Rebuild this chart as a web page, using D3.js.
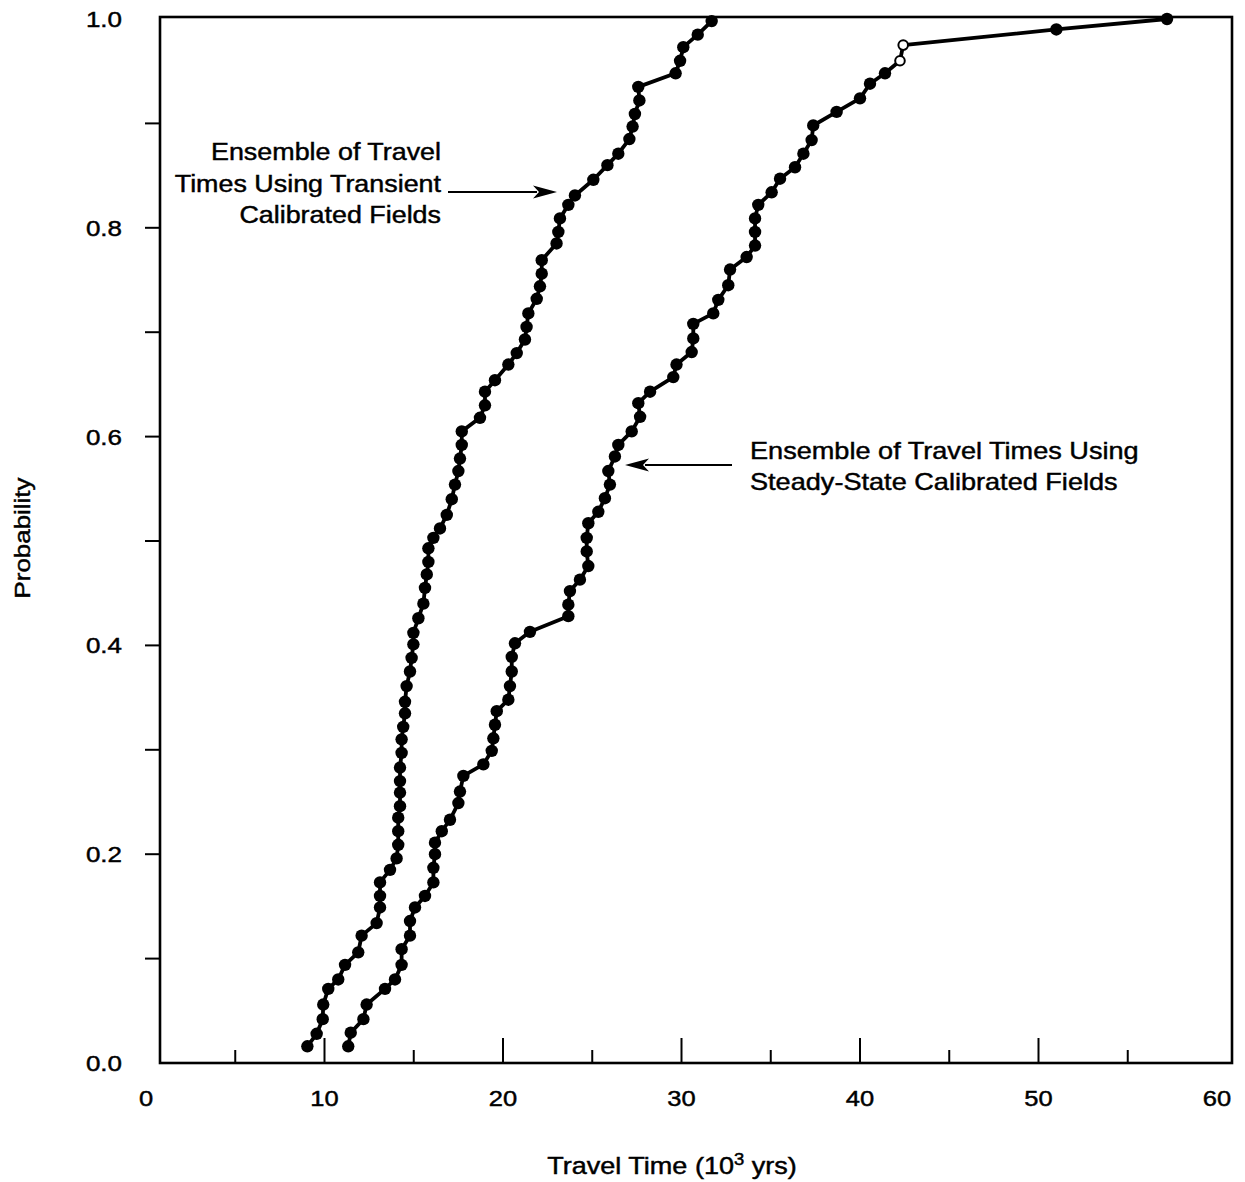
<!DOCTYPE html>
<html><head><meta charset="utf-8">
<script src="https://cdn.jsdelivr.net/npm/d3@7"></script>
<style>body{margin:0;background:#fff}</style>
</head><body>
<svg id="chart" width="1245" height="1182"></svg>
<script>
// ---- data (travel time in 10^3 yrs, cumulative probability) ----
const transientTime = [9.04,9.56,9.90,9.93,10.21,10.77,11.15,11.89,12.08,12.92,13.11,13.11,13.11,13.67,14.04,14.13,14.13,14.13,14.23,14.23,14.23,14.23,14.32,14.32,14.41,14.51,14.51,14.60,14.79,14.88,14.98,14.98,15.26,15.54,15.63,15.73,15.82,15.82,16.10,16.47,16.85,17.13,17.31,17.50,17.59,17.69,17.69,18.71,18.99,18.99,19.55,20.30,20.77,21.23,21.32,21.42,21.89,22.07,22.17,22.17,23.00,23.10,23.19,23.66,24.03,25.06,25.85,26.46,27.08,27.26,27.39,27.64,27.58,29.67,29.92,30.10,30.91,31.69];
const transientProb = [0.016,0.028,0.042,0.056,0.071,0.080,0.094,0.106,0.122,0.134,0.149,0.160,0.173,0.185,0.196,0.209,0.222,0.235,0.246,0.259,0.270,0.283,0.297,0.310,0.322,0.335,0.346,0.361,0.375,0.388,0.401,0.412,0.426,0.440,0.455,0.468,0.480,0.493,0.503,0.512,0.525,0.540,0.554,0.567,0.579,0.592,0.605,0.618,0.630,0.643,0.654,0.669,0.680,0.693,0.705,0.718,0.732,0.744,0.756,0.769,0.785,0.796,0.809,0.822,0.831,0.846,0.860,0.871,0.885,0.897,0.909,0.922,0.935,0.948,0.960,0.973,0.985,0.998];
const steadyTime = [11.33,11.47,12.18,12.36,13.39,13.95,14.32,14.32,14.79,14.79,15.07,15.63,16.10,16.10,16.19,16.19,16.57,17.03,17.50,17.59,17.78,18.90,19.37,19.46,19.55,19.65,20.30,20.39,20.49,20.49,20.67,21.51,23.66,23.66,23.75,24.31,24.78,24.69,24.69,24.78,25.34,25.71,25.99,25.90,26.27,26.46,27.21,27.68,27.58,28.24,29.54,29.72,30.57,30.66,30.66,31.78,32.06,32.62,32.72,33.65,34.12,34.12,34.12,34.30,35.05,35.52,36.36,36.83,37.29,37.38,38.69,40.00,40.56,41.40,42.24,42.42,51.00,57.20];
const steadyProb = [0.016,0.029,0.042,0.056,0.071,0.080,0.094,0.109,0.122,0.136,0.149,0.160,0.173,0.187,0.200,0.211,0.222,0.233,0.249,0.260,0.275,0.286,0.299,0.311,0.324,0.337,0.348,0.361,0.375,0.389,0.402,0.413,0.428,0.439,0.452,0.463,0.476,0.490,0.503,0.517,0.528,0.541,0.554,0.567,0.581,0.592,0.605,0.619,0.632,0.643,0.657,0.669,0.681,0.694,0.708,0.718,0.731,0.745,0.760,0.772,0.783,0.796,0.809,0.822,0.834,0.847,0.858,0.871,0.884,0.898,0.911,0.924,0.938,0.948,0.960,0.975,0.990,1.000];
const steadyOpenPoints = [74,75]; // indices drawn as open circles
const xTickLabels = [0,10,20,30,40,50,60];
const xMinorTicks = [5,15,25,35,45,55];
const xMajorTicks = [10,20,30,40,50];
const yTickLabels = [0.0,0.2,0.4,0.6,0.8,1.0];
const yAllTicks = [0.1,0.2,0.3,0.4,0.5,0.6,0.7,0.8,0.9];
const transientLabel = ["Ensemble of Travel","Times Using Transient","Calibrated Fields"];
const steadyLabel = ["Ensemble of Travel Times Using","Steady-State Calibrated Fields"];
const xTitle = "Travel Time (10";
const xTitleSup = "3";
const xTitleEnd = " yrs)";
const yTitle = "Probability";

// ---- layout ----
const FONT = "'Liberation Sans', Arial, Helvetica, sans-serif";
const svg = d3.select("#chart");
const x = d3.scaleLinear().domain([0,60]).range([146,1217]);
const y = d3.scaleLinear().domain([0,1]).range([1063,19]);
const frame = {left:160, right:1232, top:17, bottom:1063};

// frame
svg.append("rect").attr("x",frame.left).attr("y",frame.top)
  .attr("width",frame.right-frame.left).attr("height",frame.bottom-frame.top)
  .attr("fill","none").attr("stroke","#000").attr("stroke-width",2.6);

// bottom ticks (inside, upward)
svg.append("g").selectAll("line").data(xMajorTicks).join("line")
  .attr("x1",d=>x(d)).attr("x2",d=>x(d)).attr("y1",frame.bottom).attr("y2",frame.bottom-25)
  .attr("stroke","#000").attr("stroke-width",2);
svg.append("g").selectAll("line").data(xMinorTicks).join("line")
  .attr("x1",d=>x(d)).attr("x2",d=>x(d)).attr("y1",frame.bottom).attr("y2",frame.bottom-13)
  .attr("stroke","#000").attr("stroke-width",2);

// left ticks (outside)
svg.append("g").selectAll("line").data(yAllTicks).join("line")
  .attr("x1",frame.left-15).attr("x2",frame.left).attr("y1",d=>y(d)).attr("y2",d=>y(d))
  .attr("stroke","#000").attr("stroke-width",2);

function stretchedText(g, str, tx, ty, size, anchor, sx, rot){
  return g.append("text")
    .attr("transform",`translate(${tx},${ty})${rot?` rotate(${rot})`:""} scale(${sx},1)`)
    .attr("text-anchor",anchor).attr("font-family",FONT).attr("font-size",size)
    .attr("fill","#000").attr("stroke","#000").attr("stroke-width",0.45).text(str);
}

// x tick labels
xTickLabels.forEach(v=>stretchedText(svg, String(v), x(v), 1106, 22, "middle", 1.16));
// y tick labels
yTickLabels.forEach(v=>stretchedText(svg, d3.format(".1f")(v), 122, y(v)+8, 22, "end", 1.18));

// axis titles
const xt = svg.append("text")
  .attr("transform","translate(672,1174) scale(1.15,1)")
  .attr("text-anchor","middle").attr("font-family",FONT).attr("font-size",23.5)
  .attr("fill","#000").attr("stroke","#000").attr("stroke-width",0.45);
xt.append("tspan").text(xTitle);
xt.append("tspan").attr("font-size",16).attr("dy",-9).text(xTitleSup);
xt.append("tspan").attr("dy",9).text(xTitleEnd);
stretchedText(svg, yTitle, 30, 538, 22.5, "middle", 1.15, -90);

// series
const line = d3.line().x(d=>x(d[0])).y(d=>y(d[1]));
const transient = transientTime.map((t,i)=>[t,transientProb[i]]);
const steady = steadyTime.map((t,i)=>[t,steadyProb[i]]);
[transient, steady].forEach(data=>{
  svg.append("path").datum(data).attr("d",line).attr("fill","none")
    .attr("stroke","#000").attr("stroke-width",3.8).attr("stroke-linejoin","round");
});
svg.append("g").selectAll("circle").data(transient).join("circle")
  .attr("cx",d=>x(d[0])).attr("cy",d=>y(d[1])).attr("r",6.2).attr("fill","#000");
svg.append("g").selectAll("circle").data(steady).join("circle")
  .attr("cx",d=>x(d[0])).attr("cy",d=>y(d[1])).attr("r",(d,i)=>steadyOpenPoints.includes(i)?4.8:6.2)
  .attr("fill",(d,i)=>steadyOpenPoints.includes(i)?"#fff":"#000")
  .attr("stroke","#000").attr("stroke-width",(d,i)=>steadyOpenPoints.includes(i)?2:0);

// annotations
transientLabel.forEach((s,i)=>stretchedText(svg, s, 441, 160+i*31.5, 24, "end", 1.12));
steadyLabel.forEach((s,i)=>stretchedText(svg, s, 750, 459+i*31, 24, "start", 1.13));

function arrow(x1,x2,yy){
  const dir = Math.sign(x2-x1);
  svg.append("line").attr("x1",x1).attr("x2",x2-dir*20).attr("y1",yy).attr("y2",yy)
    .attr("stroke","#000").attr("stroke-width",2.2);
  svg.append("path").attr("d",`M${x2},${yy} L${x2-dir*24},${yy-6.5} L${x2-dir*18},${yy} L${x2-dir*24},${yy+6.5} Z`)
    .attr("fill","#000");
}
arrow(448, 557, 192);
arrow(732, 625, 465);
</script>
</body></html>
